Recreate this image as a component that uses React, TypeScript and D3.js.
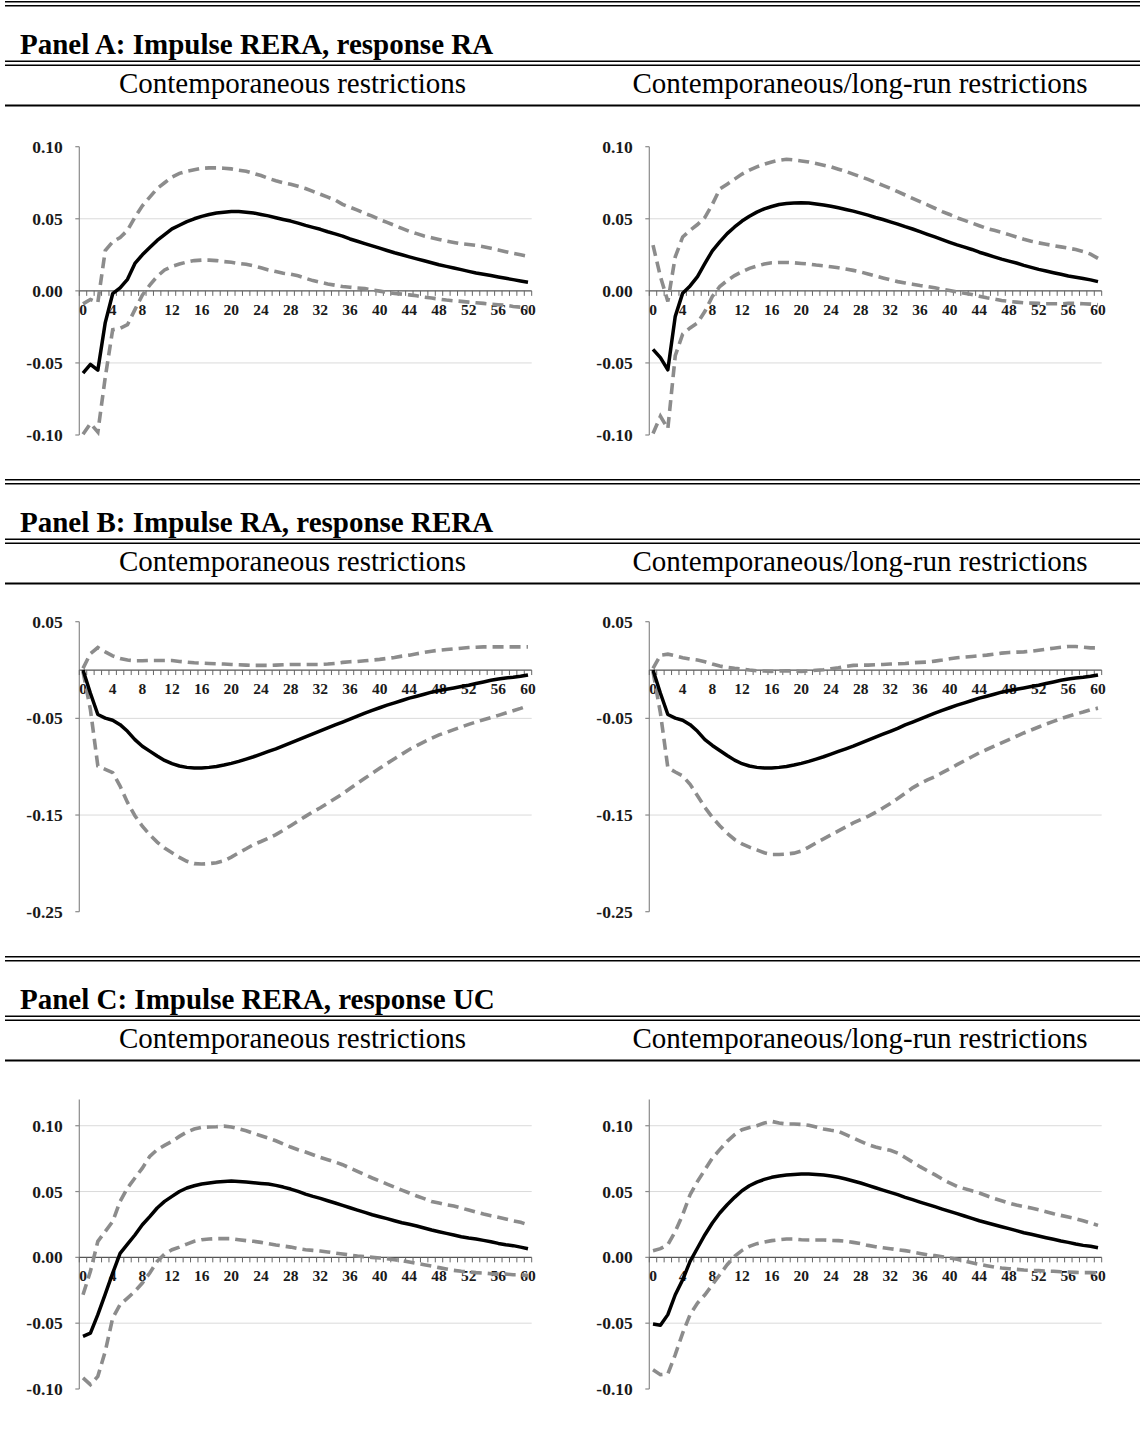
import React from 'react';
import * as d3 from 'd3';

// horizons 0..60 and the labelled ones
const horizons = d3.range(0, 61);
const xTickLabels = ['0', '4', '8', '12', '16', '20', '24', '28', '32', '36', '40', '44', '48', '52', '56', '60'];

const panelTitles = [
  'Panel A: Impulse RERA, response RA',
  'Panel B: Impulse RA, response RERA',
  'Panel C: Impulse RERA, response UC',
];
const columnTitles = ['Contemporaneous restrictions', 'Contemporaneous/long-run restrictions'];

const yTicksA = [0.1, 0.05, 0, -0.05, -0.1];
const yTicksB = [0.05, -0.05, -0.15, -0.25];
const yTicksC = [0.1, 0.05, 0, -0.05, -0.1];

// Panel A, contemporaneous
const aLeftIrf = [
  -0.057, -0.051, -0.055, -0.022, -0.002, 0.002, 0.008, 0.019, 0.025, 0.03,
  0.035, 0.039, 0.043, 0.0455, 0.048, 0.05, 0.0517, 0.053, 0.054, 0.0546,
  0.055, 0.055, 0.0546, 0.054, 0.053, 0.052, 0.0507, 0.0495, 0.0484, 0.047,
  0.0454, 0.044, 0.0427, 0.041, 0.0395, 0.038, 0.036, 0.0344, 0.0328, 0.0312,
  0.0296, 0.028, 0.0264, 0.025, 0.0236, 0.0222, 0.0209, 0.0195, 0.0181, 0.017,
  0.0158, 0.0147, 0.0135, 0.0124, 0.0115, 0.0106, 0.0096, 0.0087, 0.0078, 0.0069, 0.006,
];
const aLeftUp = [
  -0.009, -0.006, -0.008, 0.028, 0.034, 0.037, 0.042, 0.051, 0.059, 0.065,
  0.071, 0.075, 0.079, 0.0815, 0.083, 0.084, 0.085, 0.0853, 0.0853, 0.0851,
  0.0846, 0.0837, 0.083, 0.0815, 0.08, 0.078, 0.0764, 0.075, 0.074, 0.0725,
  0.071, 0.069, 0.067, 0.065, 0.063, 0.06, 0.058, 0.056, 0.0537, 0.0518,
  0.0495, 0.0475, 0.0454, 0.0433, 0.0413, 0.0397, 0.038, 0.0368, 0.0357, 0.0345,
  0.0336, 0.0327, 0.0322, 0.0315, 0.0306, 0.0295, 0.0284, 0.0272, 0.026, 0.025, 0.024,
];
const aLeftLo = [
  -0.0995, -0.092, -0.098, -0.06, -0.027, -0.026, -0.0235, -0.013, -0.003, 0.004,
  0.01, 0.0145, 0.017, 0.0186, 0.02, 0.021, 0.0213, 0.0213, 0.021, 0.0203,
  0.0198, 0.019, 0.0184, 0.0173, 0.016, 0.0145, 0.0134, 0.0122, 0.0115, 0.0104,
  0.0087, 0.0071, 0.006, 0.0048, 0.0039, 0.003, 0.0025, 0.002, 0.0016, 0.0007,
  -0.0002, -0.0011, -0.0018, -0.0023, -0.0028, -0.0034, -0.0044, -0.005, -0.0057, -0.0064,
  -0.0069, -0.0073, -0.0078, -0.0083, -0.0087, -0.0092, -0.0096, -0.01, -0.0108, -0.0113, -0.012,
];

// Panel A, contemporaneous/long-run
const aRightIrf = [
  -0.0406, -0.0463, -0.0548, -0.0177, -0.0016, 0.0034, 0.0099, 0.019, 0.0278, 0.034,
  0.0397, 0.0443, 0.0484, 0.0518, 0.0546, 0.0569, 0.0585, 0.0599, 0.0606, 0.061,
  0.0612, 0.061, 0.0603, 0.0596, 0.0587, 0.0576, 0.0564, 0.0553, 0.0539, 0.0525,
  0.0509, 0.0495, 0.0479, 0.0463, 0.0445, 0.0429, 0.0411, 0.0392, 0.0374, 0.0356,
  0.0337, 0.0319, 0.0303, 0.0287, 0.0268, 0.0252, 0.0236, 0.022, 0.0206, 0.0193,
  0.0177, 0.0163, 0.0149, 0.0138, 0.0126, 0.0115, 0.0103, 0.0094, 0.0085, 0.0076, 0.0064,
];
const aRightUp = [
  0.0317, 0.0099, -0.0073, 0.0236, 0.0374, 0.042, 0.046, 0.051, 0.06, 0.0706,
  0.074, 0.0775, 0.081, 0.0837, 0.086, 0.0878, 0.0894, 0.0906, 0.0913, 0.0908,
  0.0901, 0.0894, 0.0883, 0.0872, 0.086, 0.0844, 0.0828, 0.081, 0.0791, 0.0773,
  0.0752, 0.0732, 0.0711, 0.0688, 0.0665, 0.0642, 0.0619, 0.0596, 0.0573, 0.055,
  0.053, 0.0507, 0.0489, 0.047, 0.0452, 0.0433, 0.042, 0.0406, 0.039, 0.0374,
  0.0358, 0.0344, 0.0333, 0.0323, 0.0314, 0.0305, 0.0296, 0.0287, 0.0273, 0.0255, 0.0225,
];
const aRightLo = [
  -0.099, -0.087, -0.0956, -0.045, -0.03, -0.0257, -0.0222, -0.0142, -0.0039, 0.003,
  0.0071, 0.0106, 0.0133, 0.0156, 0.0172, 0.0186, 0.0195, 0.0197, 0.0197, 0.0195,
  0.019, 0.0186, 0.0179, 0.0174, 0.0167, 0.016, 0.0151, 0.0142, 0.0131, 0.0117,
  0.0103, 0.0089, 0.0076, 0.0064, 0.0055, 0.0046, 0.0037, 0.003, 0.0021, 0.0011,
  0.0002, -0.0007, -0.0016, -0.0025, -0.0037, -0.0048, -0.0057, -0.0067, -0.0073, -0.0078,
  -0.0083, -0.0085, -0.0087, -0.009, -0.009, -0.009, -0.0087, -0.0087, -0.009, -0.0092, -0.0096,
];

// Panel B, contemporaneous
const bLeftIrf = [
  0, -0.024, -0.046, -0.0497, -0.052, -0.0565, -0.0634, -0.072, -0.0788, -0.0839,
  -0.089, -0.0935, -0.0969, -0.0993, -0.1007, -0.1014, -0.1014, -0.1007, -0.0997, -0.0983,
  -0.0966, -0.0945, -0.0921, -0.0897, -0.087, -0.0842, -0.0815, -0.0784, -0.0753, -0.0723,
  -0.0692, -0.0661, -0.063, -0.0599, -0.0568, -0.0538, -0.0507, -0.0476, -0.0445, -0.0418,
  -0.039, -0.0363, -0.0339, -0.0315, -0.0291, -0.0271, -0.025, -0.0229, -0.0212, -0.0199,
  -0.0185, -0.0171, -0.0158, -0.014, -0.0123, -0.0106, -0.0092, -0.0082, -0.0075, -0.0065, -0.0051,
];
const bLeftUp = [
  0.0017, 0.017, 0.0233, 0.0188, 0.0147, 0.012, 0.0103, 0.0096, 0.0096, 0.0099,
  0.0099, 0.0099, 0.0099, 0.0089, 0.0082, 0.0075, 0.0072, 0.0068, 0.0065, 0.0062,
  0.0058, 0.0055, 0.0051, 0.0048, 0.0048, 0.0048, 0.0051, 0.0055, 0.0058, 0.0058,
  0.0058, 0.0058, 0.0058, 0.0062, 0.0068, 0.0079, 0.0086, 0.0089, 0.0096, 0.0103,
  0.011, 0.012, 0.013, 0.0144, 0.0154, 0.0168, 0.0182, 0.0195, 0.0205, 0.0212,
  0.0219, 0.0226, 0.0233, 0.0236, 0.024, 0.024, 0.024, 0.024, 0.024, 0.024, 0.024,
];
const bLeftLo = [
  -0.0017, -0.041, -0.0993, -0.1027, -0.1062, -0.12, -0.137, -0.1507, -0.1616, -0.1705,
  -0.178, -0.1842, -0.189, -0.1938, -0.1979, -0.2003, -0.2007, -0.2003, -0.1993, -0.1973,
  -0.1935, -0.189, -0.1849, -0.1805, -0.1774, -0.174, -0.1702, -0.1658, -0.161, -0.1562,
  -0.1514, -0.1466, -0.1425, -0.1377, -0.1329, -0.1281, -0.1226, -0.1171, -0.112, -0.1068,
  -0.1017, -0.0966, -0.0918, -0.087, -0.0822, -0.0781, -0.0743, -0.0705, -0.0671, -0.0644,
  -0.0616, -0.0589, -0.0562, -0.0538, -0.0514, -0.0493, -0.0469, -0.0445, -0.0421, -0.0397, -0.037,
];

// Panel B, contemporaneous/long-run
const bRightIrf = [
  0, -0.024, -0.046, -0.0497, -0.052, -0.0565, -0.0634, -0.072, -0.078, -0.0832,
  -0.0884, -0.0932, -0.0969, -0.0993, -0.1007, -0.1014, -0.1014, -0.1007, -0.0997, -0.0983,
  -0.0966, -0.0945, -0.0921, -0.0897, -0.087, -0.0842, -0.0815, -0.0788, -0.0757, -0.0726,
  -0.0695, -0.0664, -0.0634, -0.0603, -0.0568, -0.0538, -0.0507, -0.0476, -0.0445, -0.0418,
  -0.039, -0.0363, -0.0339, -0.0315, -0.0291, -0.0271, -0.025, -0.0229, -0.0212, -0.0199,
  -0.0185, -0.0171, -0.0158, -0.014, -0.0123, -0.0106, -0.0092, -0.0082, -0.0075, -0.0065, -0.0051,
];
const bRightUp = [
  0.0017, 0.0154, 0.0164, 0.0147, 0.0127, 0.0113, 0.0103, 0.0086, 0.0062, 0.0041,
  0.0027, 0.0017, 0.001, 0, -0.0007, -0.001, -0.0014, -0.001, -0.0007, -0.001,
  -0.0014, -0.001, -0.0003, 0.0003, 0.0014, 0.0024, 0.0038, 0.0048, 0.0051, 0.0051,
  0.0055, 0.0058, 0.0062, 0.0065, 0.0068, 0.0075, 0.0079, 0.0082, 0.0092, 0.0103,
  0.0116, 0.0127, 0.0134, 0.014, 0.0147, 0.0154, 0.0164, 0.0175, 0.0182, 0.0185,
  0.0188, 0.0195, 0.0205, 0.0216, 0.0226, 0.0236, 0.0243, 0.0243, 0.0236, 0.0229, 0.0229,
];
const bRightLo = [
  -0.0017, -0.0445, -0.101, -0.1055, -0.1096, -0.1182, -0.1301, -0.1421, -0.1524, -0.161,
  -0.1688, -0.1753, -0.1798, -0.1832, -0.186, -0.189, -0.1908, -0.1908, -0.1904, -0.1894,
  -0.1873, -0.1832, -0.1788, -0.1747, -0.1705, -0.1664, -0.1623, -0.1582, -0.1548, -0.1514,
  -0.1473, -0.1428, -0.138, -0.1329, -0.1274, -0.1219, -0.1175, -0.1137, -0.1103, -0.1062,
  -0.1021, -0.0979, -0.0938, -0.0897, -0.0856, -0.0822, -0.0788, -0.0753, -0.0719, -0.0685,
  -0.0651, -0.062, -0.0589, -0.0558, -0.0531, -0.0503, -0.0479, -0.0455, -0.0435, -0.0411, -0.0394,
];

// Panel C, contemporaneous
const cLeftIrf = [
  -0.06, -0.0575, -0.0435, -0.028, -0.012, 0.003, 0.01, 0.017, 0.0248, 0.031,
  0.0375, 0.0425, 0.0463, 0.05, 0.0527, 0.0544, 0.0557, 0.0565, 0.0572, 0.0577,
  0.058, 0.0577, 0.0572, 0.0567, 0.0562, 0.0557, 0.0547, 0.0534, 0.0519, 0.0501,
  0.0481, 0.0463, 0.0448, 0.043, 0.0413, 0.0395, 0.0377, 0.0359, 0.0342, 0.0324,
  0.0309, 0.0294, 0.0278, 0.0263, 0.0251, 0.0238, 0.0223, 0.0208, 0.0195, 0.0182,
  0.017, 0.0157, 0.0147, 0.0139, 0.0129, 0.0119, 0.0106, 0.0096, 0.0089, 0.0078, 0.0066,
];
const cLeftUp = [
  -0.0284, -0.0106, 0.0122, 0.0197, 0.0273, 0.0425, 0.0527, 0.0603, 0.0678, 0.0767,
  0.0818, 0.0851, 0.0881, 0.0919, 0.0952, 0.0975, 0.0987, 0.099, 0.0992, 0.0997,
  0.099, 0.0977, 0.0962, 0.0942, 0.0924, 0.0906, 0.0886, 0.0861, 0.0838, 0.0818,
  0.08, 0.078, 0.0759, 0.0742, 0.0724, 0.0704, 0.0678, 0.0653, 0.0628, 0.0603,
  0.058, 0.0557, 0.0534, 0.0511, 0.0489, 0.0466, 0.0446, 0.0425, 0.0413, 0.04,
  0.039, 0.0375, 0.0359, 0.0344, 0.0329, 0.0316, 0.0304, 0.0291, 0.0278, 0.0266, 0.0248,
];
const cLeftLo = [
  -0.0916, -0.0967, -0.0904, -0.0714, -0.0461, -0.0359, -0.0309, -0.0258, -0.0195, -0.0119,
  -0.003, 0.0025, 0.0058, 0.0078, 0.0101, 0.0122, 0.0134, 0.0139, 0.0142, 0.0142,
  0.0142, 0.0134, 0.0127, 0.0122, 0.0114, 0.0104, 0.0094, 0.0086, 0.0078, 0.0066,
  0.0058, 0.0053, 0.0048, 0.0041, 0.0033, 0.0025, 0.0018, 0.001, 0.0005, 0,
  -0.0005, -0.001, -0.0018, -0.0025, -0.0035, -0.0046, -0.0056, -0.0066, -0.0078, -0.0089,
  -0.0099, -0.0106, -0.0111, -0.0116, -0.0119, -0.0124, -0.0127, -0.0127, -0.0132, -0.0132, -0.0139,
];

// Panel C, contemporaneous/long-run
const cRightIrf = [
  -0.0506, -0.0516, -0.0435, -0.0284, -0.017, -0.003, 0.0071, 0.0172, 0.0261, 0.0337,
  0.04, 0.0456, 0.0506, 0.0544, 0.0572, 0.0592, 0.0608, 0.0618, 0.0625, 0.063,
  0.0633, 0.0633, 0.063, 0.0625, 0.0618, 0.0608, 0.0595, 0.058, 0.0565, 0.0547,
  0.0529, 0.0511, 0.0494, 0.0476, 0.0456, 0.0438, 0.042, 0.0403, 0.0385, 0.0367,
  0.0349, 0.0332, 0.0314, 0.0296, 0.0278, 0.0263, 0.0248, 0.0233, 0.0218, 0.0203,
  0.0187, 0.0175, 0.0162, 0.0149, 0.0137, 0.0124, 0.0114, 0.0101, 0.0091, 0.0084, 0.0073,
];
const cRightUp = [
  0.0051, 0.0066, 0.0096, 0.0197, 0.0324, 0.0476, 0.0577, 0.0666, 0.0754, 0.0818,
  0.0881, 0.0932, 0.097, 0.0987, 0.1, 0.102, 0.1033, 0.102, 0.1013, 0.1013,
  0.101, 0.1003, 0.099, 0.0975, 0.0965, 0.0957, 0.0932, 0.0906, 0.0881, 0.0856,
  0.0838, 0.0825, 0.0813, 0.0792, 0.0759, 0.0724, 0.0689, 0.0658, 0.0628, 0.0595,
  0.0565, 0.0539, 0.0522, 0.0506, 0.0489, 0.0468, 0.0448, 0.043, 0.0413, 0.0397,
  0.0385, 0.0375, 0.0362, 0.0347, 0.0332, 0.0319, 0.0306, 0.0294, 0.0278, 0.0261, 0.0243,
];
const cRightLo = [
  -0.0853, -0.0891, -0.0886, -0.0739, -0.0575, -0.0435, -0.0347, -0.0284, -0.0208, -0.0132,
  -0.0056, 0.0008, 0.0053, 0.0084, 0.0104, 0.0116, 0.0127, 0.0134, 0.0139, 0.0139,
  0.0134, 0.0132, 0.0132, 0.0132, 0.0129, 0.0127, 0.0122, 0.0114, 0.0104, 0.0091,
  0.0081, 0.0073, 0.0066, 0.0058, 0.0051, 0.0041, 0.003, 0.002, 0.0013, 0.0005,
  -0.0005, -0.0015, -0.0028, -0.0041, -0.0053, -0.0063, -0.0073, -0.0081, -0.0086, -0.0091,
  -0.0096, -0.0099, -0.0101, -0.0104, -0.0106, -0.0109, -0.0111, -0.0114, -0.0116, -0.0116, -0.0119,
];

const W = 1140;
const H = 1431;
const SERIF = '"Liberation Serif", "Times New Roman", serif';
const panelOffsets = [0, 478, 955];
const colCentres = [292.5, 860];
const plotLeft = [79.3, 649.3];
const plotWidth = 452.4;

// y layout per panel row: domain + pixel range
const rows = [
  { domain: [-0.1, 0.1], range: [435, 146.7], ticks: yTicksA, series: [[aLeftIrf, aLeftUp, aLeftLo], [aRightIrf, aRightUp, aRightLo]] },
  { domain: [-0.25, 0.05], range: [911.7, 621.7], ticks: yTicksB, series: [[bLeftIrf, bLeftUp, bLeftLo], [bRightIrf, bRightUp, bRightLo]] },
  { domain: [-0.1, 0.12], range: [1389, 1099.4], ticks: yTicksC, series: [[cLeftIrf, cLeftUp, cLeftLo], [cRightIrf, cRightUp, cRightLo]] },
];

interface ChartProps {
  x0: number;
  domain: number[];
  range: number[];
  ticks: number[];
  irf: number[];
  upper: number[];
  lower: number[];
}

const Chart: React.FC<ChartProps> = ({ x0, domain, range, ticks, irf, upper, lower }) => {
  const x = d3.scaleBand<number>().domain(horizons).range([x0, x0 + plotWidth]).paddingInner(0);
  const bw = x.bandwidth();
  const cx = (i: number) => (x(i) as number) + bw / 2;
  const y = d3.scaleLinear().domain(domain).range(range);
  const y0 = y(0);

  const line = d3.line<number>()
    .x((d, i) => cx(i))
    .y(d => y(d));

  const boundaries = d3.range(0, horizons.length + 1).map(k => x0 + k * bw);
  const gridTicks = ticks.filter(t => t !== 0 && t < domain[1] && t > domain[0]);

  return (
    <g>
      {gridTicks.map(t => (
        <line key={'g' + t} x1={x0} x2={x0 + plotWidth} y1={y(t)} y2={y(t)} stroke="#dadada" strokeWidth={1} />
      ))}
      <line x1={x0} x2={x0} y1={y(domain[1])} y2={y(domain[0])} stroke="#8a8a8a" strokeWidth={1.2} />
      {ticks.map(t => (
        <g key={'y' + t}>
          <line x1={x0 - 4} x2={x0} y1={y(t)} y2={y(t)} stroke="#8a8a8a" strokeWidth={1.2} />
          <text x={x0 - 16.5} y={y(t)} dy="0.35em" textAnchor="end" fontFamily={SERIF} fontWeight="bold" fontSize={17.5} fill="#1a1a1a">
            {t.toFixed(2)}
          </text>
        </g>
      ))}
      <line x1={x0} x2={x0 + plotWidth} y1={y0} y2={y0} stroke="#555" strokeWidth={1.3} />
      {boundaries.map((bx, k) => (
        <line key={'t' + k} x1={bx} x2={bx} y1={y0} y2={y0 + 5} stroke="#666" strokeWidth={1} />
      ))}
      {xTickLabels.map(lbl => (
        <text key={'x' + lbl} x={cx(+lbl)} y={y0 + 24} textAnchor="middle" fontFamily={SERIF} fontWeight="bold" fontSize={15.5} fill="#1a1a1a">
          {lbl}
        </text>
      ))}
      <path d={line(lower) || ''} fill="none" stroke="#8c8c8c" strokeWidth={3.6} strokeDasharray="11,6" />
      <path d={line(upper) || ''} fill="none" stroke="#8c8c8c" strokeWidth={3.6} strokeDasharray="11,6" />
      <path d={line(irf) || ''} fill="none" stroke="#000" strokeWidth={3.5} strokeLinejoin="round" />
    </g>
  );
};

const App: React.FC = () => {
  return (
    <div style={{ position: 'absolute', left: 0, top: 0, background: '#fff' }}>
      <svg width={W} height={H} style={{ display: 'block' }}>
        <rect width={W} height={H} fill="#fff" />
        {panelOffsets.map((off, p) => (
          <g key={'p' + p}>
            <line x1={5} x2={W} y1={off + 1.8} y2={off + 1.8} stroke="#000" strokeWidth={1.6} />
            <line x1={5} x2={W} y1={off + 5.8} y2={off + 5.8} stroke="#000" strokeWidth={1.6} />
            <text x={20} y={off + 53.5} fontFamily={SERIF} fontWeight="bold" fontSize={29} fill="#000">
              {panelTitles[p]}
            </text>
            <line x1={5} x2={W} y1={off + 61.2} y2={off + 61.2} stroke="#000" strokeWidth={1.6} />
            <line x1={5} x2={W} y1={off + 65.2} y2={off + 65.2} stroke="#000" strokeWidth={1.6} />
            {columnTitles.map((ct, c) => (
              <text key={'c' + c} x={colCentres[c]} y={off + 93} textAnchor="middle" fontFamily={SERIF} fontSize={29} fill="#000">
                {ct}
              </text>
            ))}
            <line x1={5} x2={W} y1={off + 105.5} y2={off + 105.5} stroke="#000" strokeWidth={2.2} />
          </g>
        ))}
        {rows.map((r, p) =>
          r.series.map((s, c) => (
            <Chart
              key={'ch' + p + c}
              x0={plotLeft[c]}
              domain={r.domain}
              range={r.range}
              ticks={r.ticks}
              irf={s[0]}
              upper={s[1]}
              lower={s[2]}
            />
          ))
        )}
      </svg>
    </div>
  );
};

export default App;
